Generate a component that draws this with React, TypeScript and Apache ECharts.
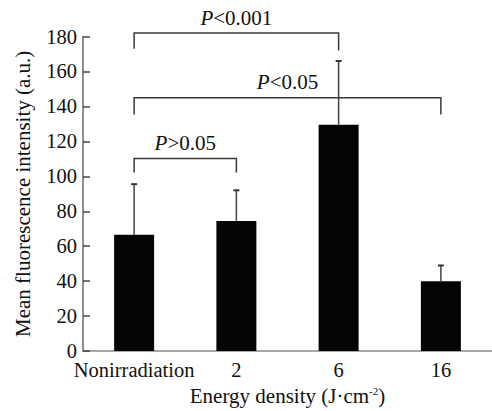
import React, { useEffect, useRef } from "react";
import * as echarts from "echarts";

const categories = ["Nonirradiation", "2", "6", "16"];
const means = [66.5, 74.5, 129.5, 40];
const errorTops = [95.5, 92, 166, 49];

const bracketFrom = [0, 0, 0];
const bracketTo = [2, 3, 1];
const bracketTop = [182, 145, 110.2];
const bracketLegLeft = [173, 135.4, 102.2];
const bracketLegRight = [172, 135.4, 102.2];
const bracketLabels = ["{i|P}<0.001", "{i|P}<0.05", "{i|P}>0.05"];

const yTicks = { min: 0, max: 180, interval: 20 };

const FONT = "Liberation Serif";

export default function App() {
  const ref = useRef<HTMLDivElement>(null);
  useEffect(() => {
    if (!ref.current) return;
    const chart = echarts.init(ref.current, undefined, { renderer: "svg" });
    const option: any = {
      animation: false,
      backgroundColor: "#fff",
      textStyle: { fontFamily: FONT },
      grid: { left: 83, right: 0, top: 36.5, bottom: 58.3, containLabel: false },
      xAxis: {
        type: "category",
        data: categories,
        axisLine: { lineStyle: { color: "#8a8a8a", width: 1.5 } },
        axisTick: { show: false },
        axisLabel: { fontFamily: FONT, fontSize: 20.5, lineHeight: 20, color: "#111", margin: 8.5, interval: 0 },
        name: "Energy density (J·cm{sup|-2})",
        nameLocation: "middle",
        nameGap: 32,
        nameTextStyle: {
          fontFamily: FONT,
          fontSize: 21,
          color: "#111",
          rich: {
            sup: { fontFamily: FONT, fontSize: 11, color: "#111", verticalAlign: "top", padding: [0, 0, 10, 0] },
          },
        },
      },
      yAxis: {
        type: "value",
        min: yTicks.min,
        max: yTicks.max,
        interval: yTicks.interval,
        splitLine: { show: false },
        axisLine: { show: true, lineStyle: { color: "#6a6a6a", width: 1.5 } },
        axisTick: { show: true, inside: true, length: 7, lineStyle: { color: "#444", width: 1.5 } },
        axisLabel: { fontFamily: FONT, fontSize: 20.5, lineHeight: 16, color: "#111", margin: 6 },
        name: "Mean fluorescence intensity (a.u.)",
        nameLocation: "middle",
        nameGap: 50,
        nameTextStyle: { fontFamily: FONT, fontSize: 21, color: "#111" },
      },
      series: [
        {
          type: "bar",
          data: means,
          barWidth: 40,
          itemStyle: { color: "#050505" },
          z: 2,
        },
        {
          type: "custom",
          z: 3,
          data: categories.map((_, i) => [i, means[i], errorTops[i]]),
          encode: { x: 0, y: [1, 2] },
          renderItem: (params: any, api: any) => {
            const x = api.value(0);
            const p0 = api.coord([x, api.value(1)]);
            const p1 = api.coord([x, api.value(2)]);
            const cap = 3;
            const style = { stroke: "#444", lineWidth: 1.5 };
            return {
              type: "group",
              children: [
                { type: "line", shape: { x1: p0[0], y1: p0[1], x2: p1[0], y2: p1[1] }, style },
                { type: "line", shape: { x1: p1[0] - cap, y1: p1[1], x2: p1[0] + cap, y2: p1[1] }, style: { stroke: "#333", lineWidth: 2 } },
              ],
            };
          },
        },
        {
          type: "custom",
          z: 4,
          clip: false,
          data: bracketFrom.map((f, i) => [f, bracketTo[i], bracketTop[i], bracketLegLeft[i], bracketLegRight[i], i]),
          encode: { x: [0, 1], y: [2, 3, 4] },
          renderItem: (params: any, api: any) => {
            const from = api.value(0);
            const to = api.value(1);
            const idx = api.value(5);
            const tl = api.coord([from, api.value(2)]);
            const tr = api.coord([to, api.value(2)]);
            const bl = api.coord([from, api.value(3)]);
            const br = api.coord([to, api.value(4)]);
            return {
              type: "group",
              children: [
                {
                  type: "polyline",
                  shape: { points: [[bl[0], bl[1]], [tl[0], tl[1]], [tr[0], tr[1]], [br[0], br[1]]] },
                  style: { stroke: "#3a3a3a", lineWidth: 1.5, fill: null },
                },
                {
                  type: "text",
                  x: (tl[0] + tr[0]) / 2,
                  y: tl[1] - 5,
                  style: {
                    text: bracketLabels[idx],
                    fontFamily: FONT,
                    fontSize: 21,
                    fill: "#111",
                    align: "center",
                    verticalAlign: "bottom",
                    rich: { i: { fontFamily: FONT, fontSize: 21, fontStyle: "italic", fill: "#111" } },
                  },
                },
              ],
            };
          },
        },
      ],
    };
    chart.setOption(option);
    return () => chart.dispose();
  }, []);
  return (
    <div
      ref={ref}
      style={{ position: "fixed", left: 0, top: 0, width: 492, height: 411, background: "#fff" }}
    />
  );
}
